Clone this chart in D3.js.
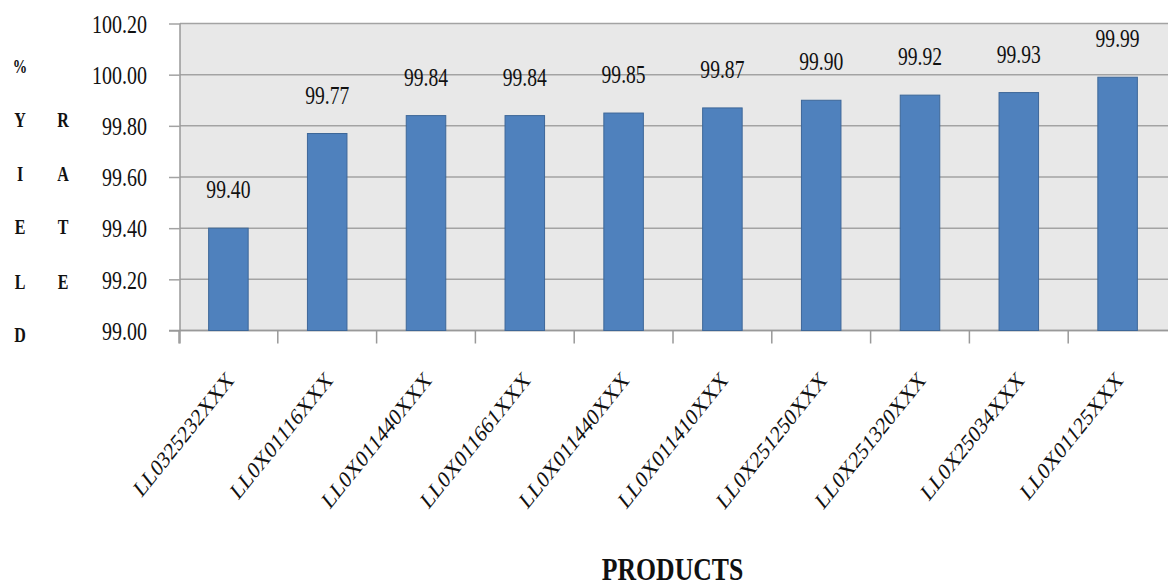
<!DOCTYPE html>
<html>
<head>
<meta charset="utf-8">
<script src="https://cdn.jsdelivr.net/npm/d3@7"></script>
<style>
  html, body { margin: 0; padding: 0; background: #ffffff; }
  svg { display: block; }
  text { font-family: "Liberation Serif", "Times New Roman", serif; fill: #111; }
</style>
</head>
<body>
<svg id="chart" width="1168" height="587"></svg>
<script>
// Product codes along the category axis
const products = [
  "LL0325232XXX", "LL0X01116XXX", "LL0X011440XXX", "LL0X011661XXX", "LL0X011440XXX",
  "LL0X011410XXX", "LL0X251250XXX", "LL0X251320XXX", "LL0X25034XXX", "LL0X01125XXX"
];
// Yield rate (%) per product
const yieldRate = [99.40, 99.77, 99.84, 99.84, 99.85, 99.87, 99.90, 99.92, 99.93, 99.99];
// Value axis ticks
const yTicks = [99.00, 99.20, 99.40, 99.60, 99.80, 100.00, 100.20];
// Vertical axis title, two columns of stacked letters
const titleCol1 = ["%", "Y", "I", "E", "L", "D"];
const titleCol2 = ["R", "A", "T", "E"];
const xTitle = "PRODUCTS";

const svg = d3.select("#chart");
const W = 1168;
const plot = { left: 180, right: 1167, top: 23.5, bottom: 330.5 };
const SX = 0.8; // horizontal narrowing of all text

const keys = products.map((p, i) => i);
const x = d3.scaleBand()
  .domain(keys)
  .range([plot.left - 1, plot.right])
  .paddingInner(0.6)
  .paddingOuter(0.3);

const y = d3.scaleLinear()
  .domain([99.0, 100.2])
  .range([plot.bottom, plot.top]);

// plot background
svg.append("rect")
  .attr("x", plot.left).attr("y", plot.top)
  .attr("width", W - plot.left).attr("height", plot.bottom - plot.top)
  .attr("fill", "#e8e8e8");

// horizontal gridlines
svg.append("g")
  .selectAll("line")
  .data(yTicks)
  .join("line")
  .attr("x1", plot.left).attr("x2", W)
  .attr("y1", d => y(d)).attr("y2", d => y(d))
  .attr("stroke", "#a3a3a3").attr("stroke-width", 1.5);

// value axis
const yAxis = svg.append("g")
  .attr("transform", `translate(${plot.left},0)`)
  .call(d3.axisLeft(y).tickValues(yTicks).tickSize(11).tickFormat(d => d.toFixed(2)));
yAxis.select(".domain").attr("stroke", "#999").attr("stroke-width", 1.5)
  .attr("d", `M0,${plot.top}V${plot.bottom + 13}`);
yAxis.selectAll(".tick line").attr("stroke", "#a3a3a3").attr("stroke-width", 1.5);
yAxis.selectAll(".tick text")
  .attr("x", 0)
  .attr("dy", "0.35em")
  .attr("transform", `translate(-33,0) scale(${SX},1)`)
  .style("font-size", "25px")
  .style("font-family", "'Liberation Serif', 'Times New Roman', serif")
  .attr("fill", "#111");

// category axis baseline and boundary ticks
const step = x.step();
const boundaries = d3.range(products.length).map(i => x(keys[i]) - step * x.paddingOuter());
svg.append("line")
  .attr("x1", plot.left - 11).attr("x2", W)
  .attr("y1", plot.bottom).attr("y2", plot.bottom)
  .attr("stroke", "#999").attr("stroke-width", 1.5);
svg.append("g")
  .selectAll("line")
  .data(boundaries)
  .join("line")
  .attr("x1", d => d).attr("x2", d => d)
  .attr("y1", plot.bottom).attr("y2", plot.bottom + 13)
  .attr("stroke", "#999").attr("stroke-width", 1.5);

// bars
svg.append("g")
  .selectAll("rect")
  .data(yieldRate)
  .join("rect")
  .attr("x", (d, i) => x(keys[i]))
  .attr("y", d => y(d))
  .attr("width", x.bandwidth())
  .attr("height", d => y(99.0) - y(d))
  .attr("fill", "#4f81bd")
  .attr("stroke", "#3d6798")
  .attr("stroke-width", 1);

// value labels
svg.append("g")
  .selectAll("text")
  .data(yieldRate)
  .join("text")
  .attr("transform", (d, i) =>
    `translate(${x(keys[i]) + x.bandwidth() / 2},${y(d) - 30}) scale(${SX},1)`)
  .attr("text-anchor", "middle")
  .style("font-size", "24.5px")
  .text(d => d.toFixed(2));

// slanted category labels
svg.append("g")
  .selectAll("text")
  .data(products)
  .join("text")
  .attr("transform", (d, i) =>
    `translate(${x(keys[i]) + x.bandwidth() / 2 + 6.5},${plot.bottom + 51}) scale(${SX},1) rotate(-45)`)
  .attr("text-anchor", "end")
  .style("font-size", "24px")
  .text(d => d);

// vertical axis title letters
const rowY = [67, 120, 174, 227, 282, 335];
svg.append("g")
  .selectAll("text")
  .data(titleCol1)
  .join("text")
  .attr("transform", (d, i) => `translate(20,${rowY[i]}) scale(${SX},1)`)
  .attr("text-anchor", "middle")
  .attr("dy", "0.33em")
  .style("font-size", d => d === "%" ? "18px" : "20px").style("font-weight", "bold")
  .text(d => d);
svg.append("g")
  .selectAll("text")
  .data(titleCol2)
  .join("text")
  .attr("transform", (d, i) => `translate(63,${rowY[i + 1]}) scale(${SX},1)`)
  .attr("text-anchor", "middle")
  .attr("dy", "0.33em")
  .style("font-size", "20px").style("font-weight", "bold")
  .text(d => d);

// category axis title
svg.append("text")
  .attr("transform", `translate(672.5,580) scale(0.83,1)`)
  .attr("text-anchor", "middle")
  .style("font-size", "31px").style("font-weight", "bold")
  .attr("fill", "#222")
  .text(xTitle);
</script>
</body>
</html>
